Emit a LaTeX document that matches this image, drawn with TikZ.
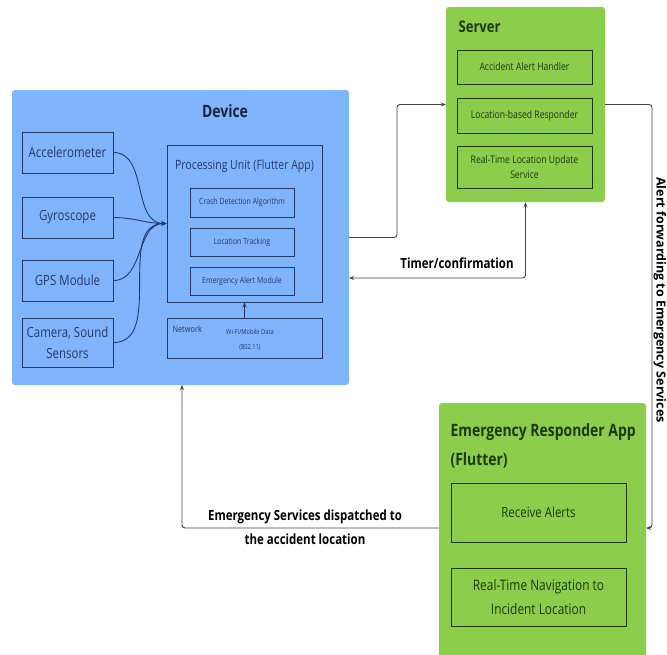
\documentclass[tikz,border=0pt]{standalone}
\usepackage{fontspec}
\setmainfont{Open Sans}[FakeStretch=0.82]
\newfontfamily\widefont{Open Sans}
\usetikzlibrary{arrows.meta}
\definecolor{devblue}{RGB}{128,180,252}
\definecolor{navy}{RGB}{38,58,105}
\definecolor{srvgreen}{RGB}{140,206,76}
\definecolor{dkgreen}{RGB}{30,55,15}
\definecolor{linegray}{RGB}{70,70,70}
\tikzset{
  panel/.style={rectangle, rounded corners=3pt, draw=none, inner sep=0pt},
  bluebox/.style={rectangle, draw=navy, line width=1pt, inner sep=1pt, align=center, text=navy},
  greenbox/.style={rectangle, draw=dkgreen, line width=1pt, inner sep=1pt, align=center, text=dkgreen},
  conn/.style={draw=linegray, line width=0.9pt, rounded corners=3pt, -{Stealth[length=5pt,width=4pt]}},
  bothconn/.style={draw=linegray, line width=0.9pt, rounded corners=3pt, {Stealth[length=5pt,width=4pt]}-{Stealth[length=5pt,width=4pt]}},
  sensconn/.style={draw=navy, line width=0.9pt, -{Stealth[length=5pt,width=4pt]}},
  lbl/.style={font=\fontsize{14}{17}\selectfont\bfseries, text=black, align=center},
}
\begin{document}
\begin{tikzpicture}[x=1pt,y=-1pt]
\useasboundingbox (0,0) rectangle (667,654);
\fill[white] (0,0) rectangle (667,654);

% ---------- Device ----------
\node[panel, fill=devblue, minimum width=337pt, minimum height=295pt] (dev) at (180.5,237.5) {};
\node[font=\fontsize{17}{20}\selectfont\bfseries, text=navy!60!black] (devt) at (225,111) {Device};

\node[bluebox, minimum width=91pt, minimum height=41pt, font=\fontsize{14}{17}\selectfont] (acc) at (67.5,152.5) {Accelerometer};
\node[bluebox, minimum width=91pt, minimum height=41pt, font=\fontsize{14}{17}\selectfont] (gyr) at (67.5,217.5) {Gyroscope};
\node[bluebox, minimum width=91pt, minimum height=41pt, font=\fontsize{14}{17}\selectfont] (gps) at (67.5,280.5) {GPS Module};
\node[bluebox, minimum width=91pt, minimum height=49pt, font=\fontsize{14}{21}\selectfont] (cam) at (67.5,342.5) {Camera, Sound\\Sensors};

\node[bluebox, minimum width=155pt, minimum height=157pt] (pu) at (244.5,223.5) {};
\node[font=\fontsize{12.8}{14}\selectfont, text=navy] (put) at (244.5,166) {Processing Unit (Flutter App)};
\node[bluebox, minimum width=104pt, minimum height=29pt, font=\fontsize{8.5}{10}\selectfont] (crash) at (242,202.5) {Crash Detection Algorithm};
\node[bluebox, minimum width=104pt, minimum height=28pt, font=\fontsize{8.5}{10}\selectfont] (loct) at (242,242) {Location Tracking};
\node[bluebox, minimum width=104pt, minimum height=28pt, font=\fontsize{8.5}{10}\selectfont] (eam) at (242,281) {Emergency Alert Module};

\node[bluebox, minimum width=155pt, minimum height=40pt] (net) at (244.5,338) {};
\node[anchor=west, font=\fontsize{9}{10}\selectfont, text=navy] (nett) at (169,329) {Network};
\node[font=\fontsize{7}{15}\selectfont, text=navy, align=center] (wifi) at (250,339.5) {Wi-Fi/Mobile Data\\(802.11)};

\draw[sensconn] (net.north) -- (pu.south);
\draw[sensconn] (acc.east) to[out=0,in=180] (pu.west);
\draw[sensconn] (gyr.east) to[out=0,in=180] (pu.west);
\draw[sensconn] (gps.east) to[out=0,in=180] (pu.west);
\draw[sensconn] (cam.east) to[out=0,in=180] (pu.west);

% ---------- Server ----------
\node[panel, fill=srvgreen, minimum width=159pt, minimum height=195pt] (srv) at (525.5,104.5) {};
\node[anchor=west, font=\fontsize{16}{18}\selectfont\bfseries, text=dkgreen] (srvt) at (455,27) {Server};
\node[greenbox, minimum width=135pt, minimum height=34pt, font=\fontsize{10.5}{12}\selectfont] (aah) at (524.5,67) {Accident Alert Handler};
\node[greenbox, minimum width=135pt, minimum height=35pt, font=\fontsize{10.5}{12}\selectfont] (lbr) at (524.5,115.5) {Location-based Responder};
\node[greenbox, minimum width=135pt, minimum height=42pt, font=\fontsize{10.5}{15}\selectfont] (rtl) at (524.5,167) {Real-Time Location Update\\Service};

% ---------- Responder ----------
\node[panel, fill=srvgreen, minimum width=207pt, minimum height=260pt] (resp) at (542.5,533) {};
\node[anchor=west, font=\fontsize{17}{29}\selectfont\bfseries, text=dkgreen, align=left] (respt) at (447,445.5) {Emergency Responder App\\(Flutter)};
\node[greenbox, minimum width=175pt, minimum height=59pt, font=\fontsize{14}{17}\selectfont] (recv) at (538.5,512.5) {Receive Alerts};
\node[greenbox, minimum width=175pt, minimum height=58pt, font=\fontsize{14.5}{24}\selectfont] (nav) at (538.5,597) {Real-Time Navigation to\\Incident Location};

% ---------- Connectors ----------
\coordinate (c1) at (397,237.5);
\draw[conn] (dev.east) -- (c1) |- (srv.west);

\coordinate (tdev) at (349,278);
\draw[bothconn] (tdev) -| (srv.south);
\node[lbl] (tlbl) at (457,263) {Timer/confirmation};

\coordinate (c2) at (652,104.5);
\coordinate (rin) at (646,528);
\draw[conn] (srv.east) -- (c2) |- (rin);
\node[font=\fontsize{12.5}{14}\selectfont\widefont\bfseries, rotate=-90, inner sep=1pt] (aflbl) at (660,300) {Alert forwarding to Emergency Services};

\coordinate (rout) at (439,528);
\coordinate (c3) at (182,528);
\coordinate (dbot) at (182,385);
\draw[conn] (rout) -- (c3) -- (dbot);
\node[lbl, font=\fontsize{14}{24}\selectfont\bfseries] (dlbl) at (305,527) {Emergency Services dispatched to\\the accident location};
\end{tikzpicture}
\end{document}
